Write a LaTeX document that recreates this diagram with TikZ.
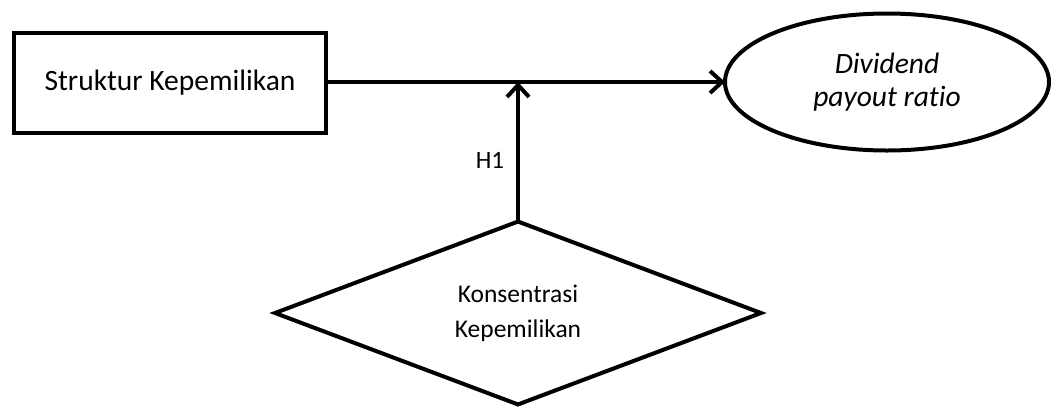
\documentclass[tikz,border=0pt]{standalone}
\usepackage{fontspec}
\setmainfont{Carlito}[RawFeature=-liga]
\usetikzlibrary{shapes.geometric,arrows.meta}
\begin{document}
\begin{tikzpicture}[x=1pt,y=-1pt,
  every node/.style={inner sep=0pt,outer sep=0pt},
  thick line/.style={line width=4pt},
  boxnode/.style={draw,thick line,rectangle,minimum width=312pt,minimum height=100pt,font=\fontsize{29.5}{34}\selectfont},
  ellnode/.style={draw,thick line,ellipse,minimum width=324pt,minimum height=137pt,align=center,font=\fontsize{29.5}{33}\selectfont\itshape},
  diamnode/.style={draw,thick line,diamond,minimum width=486pt,minimum height=181pt,align=center,font=\fontsize{25.5}{35}\selectfont},
  conn/.style={thick line,-{Straight Barb[length=12pt,width=22pt,line width=4pt]}}
]
\useasboundingbox (0,0) rectangle (1051,408);
\node[boxnode] (s) at (170,83) {\raisebox{4pt}{Struktur Kepemilikan}};
\node[ellnode] (e) at (887,82) {Dividend\\payout ratio};
\node[diamnode] (d) at (518,313) {Konsentrasi\\Kepemilikan};
\coordinate (j) at (d.north |- e.west);
\draw[conn] (s.east |- e.west) -- (e.west);
\draw[conn] (d.north) -- (j);
\node[font=\fontsize{25}{30}\selectfont] (h) at (490,160) {H1};
\end{tikzpicture}
\end{document}
